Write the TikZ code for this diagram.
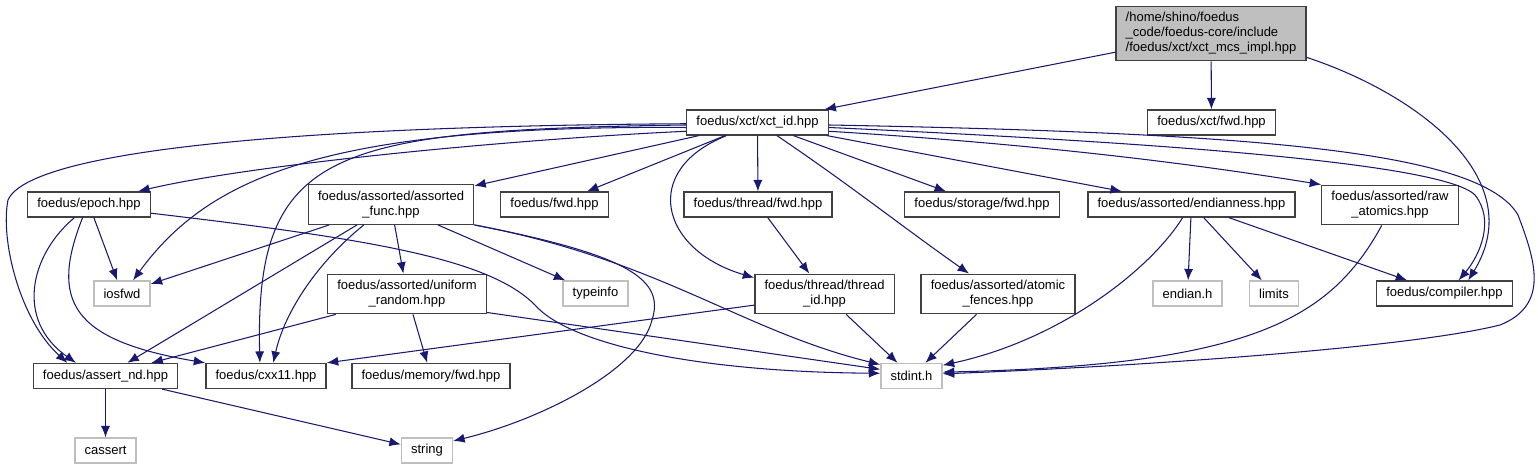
\documentclass[tikz,border=0pt]{standalone}
\usepackage{fontspec}
\setmainfont{Liberation Sans}
\usetikzlibrary{arrows.meta}

\definecolor{kante}{RGB}{25,25,112}
\definecolor{rahmen}{RGB}{64,64,64}
\definecolor{sysrahmen}{RGB}{191,191,191}

\tikzset{
  hdr/.style={draw=rahmen, line width=0.75pt, fill=white, inner xsep=5.5pt, inner ysep=3.5pt,
    minimum height=0.5cm, align=center, font=\fontsize{7.4}{8.6}\selectfont},
  sys/.style={hdr, draw=sysrahmen},
  dep/.style={draw=kante, line width=0.6pt, -{Latex[length=6.5pt,width=5.2pt]}},
}

\begin{document}
\begin{tikzpicture}[x=0.02cm, y=-0.02cm]
  % Rahmen
  \path[fill=white, use as bounding box] (0,0) rectangle (1538,469);

  % Wurzel
  \node[hdr, fill=sysrahmen, align=left] (root) at (1211,33.5) {/home/shino/foedus\\\_code/foedus-core/include\\/foedus/xct/xct\_mcs\_impl.hpp};

  % Ebene 1
  \node[hdr] (xctid) at (757.5,122.5) {foedus/xct/xct\_id.hpp};
  \node[hdr] (xctfwd) at (1211.5,122.5) {foedus/xct/fwd.hpp};

  % Ebene 2
  \node[hdr] (epoch) at (89,204.5) {foedus/epoch.hpp};
  \node[hdr] (afunc) at (391,204.5) {foedus/assorted/assorted\\\_func.hpp};
  \node[hdr] (ffwd) at (554.5,204.5) {foedus/fwd.hpp};
  \node[hdr] (tfwd) at (758,204.5) {foedus/thread/fwd.hpp};
  \node[hdr] (sfwd) at (982,204.5) {foedus/storage/fwd.hpp};
  \node[hdr] (endian) at (1191.5,204.5) {foedus/assorted/endianness.hpp};
  \node[hdr] (raw) at (1390,205) {foedus/assorted/raw\\\_atomics.hpp};

  % Ebene 3
  \node[sys] (iosfwd) at (122,293.5) {iosfwd};
  \node[hdr] (urandom) at (407,294) {foedus/assorted/uniform\\\_random.hpp};
  \node[sys] (typeinfo) at (595.5,293.5) {typeinfo};
  \node[hdr] (tid) at (824.5,294) {foedus/thread/thread\\\_id.hpp};
  \node[hdr] (afence) at (998,294) {foedus/assorted/atomic\\\_fences.hpp};
  \node[sys] (endianh) at (1187.5,293.5) {endian.h};
  \node[sys] (limits) at (1274,293.5) {limits};
  \node[hdr] (compiler) at (1444.5,293.5) {foedus/compiler.hpp};

  % Ebene 4
  \node[hdr] (assertnd) at (105.5,376) {foedus/assert\_nd.hpp};
  \node[hdr] (cxx11) at (266,376) {foedus/cxx11.hpp};
  \node[hdr] (memfwd) at (431,376) {foedus/memory/fwd.hpp};
  \node[sys] (stdint) at (911.5,376) {stdint.h};

  % Ebene 5
  \node[sys] (cassert) at (105.5,450.5) {cassert};
  \node[sys] (string) at (427,450.5) {string};

  % Kanten der Wurzel
  \draw[dep] (root) -- (xctid);
  \draw[dep] (root) -- (xctfwd);
  \draw[dep] (root.-14) .. controls (1420,95) and (1530,180) .. (compiler.29);

  % Kanten von xct_id
  \draw[dep] (xctid.181) .. controls (300,126) and (30,150) .. (8,200) .. controls (0,240) and (20,320) .. (assertnd.161);
  \draw[dep] (xctid.182) .. controls (330,130) and (255,150) .. (cxx11.115);
  \draw[dep] (xctid.184) .. controls (330,125) and (210,175) .. (iosfwd.50);
  \draw[dep] (xctid.187) .. controls (500,140) and (250,165) .. (epoch.15);
  \draw[dep] (xctid) -- (afunc);
  \draw[dep] (xctid) -- (ffwd);
  \draw[dep] (xctid.203) .. controls (640,170) and (660,250) .. (tid.167);
  \draw[dep] (xctid) -- (tfwd);
  \draw[dep] (xctid) .. controls (850,185) and (900,225) .. (afence);
  \draw[dep] (xctid) -- (sfwd);
  \draw[dep] (xctid) -- (endian);
  \draw[dep] (xctid.-7) .. controls (1050,145) and (1200,165) .. (raw.north west);
  \draw[dep] (xctid.-4) .. controls (1100,140) and (1440,160) .. (1475,195) .. controls (1495,220) and (1480,255) .. (compiler.43);
  \draw[dep] (xctid.-2) .. controls (1250,133) and (1480,150) .. (1518,215) .. controls (1535,260) and (1550,305) .. (1500,325) .. controls (1400,350) and (1100,368) .. (stdint.4);

  % Kanten von epoch
  \draw[dep] (epoch) -- (iosfwd);
  \draw[dep] (epoch.222) .. controls (30,255) and (15,320) .. (assertnd.156);
  \draw[dep] (epoch.244) .. controls (50,300) and (70,340) .. (cxx11.north west);
  \draw[dep] (epoch.-8) .. controls (380,240) and (490,260) .. (535,305) .. controls (570,345) and (700,372) .. (stdint.175);

  % Kanten von assorted_func
  \draw[dep] (afunc) -- (iosfwd);
  \draw[dep] (afunc) -- (assertnd);
  \draw[dep] (afunc.217) .. controls (320,260) and (285,310) .. (cxx11.61);
  \draw[dep] (afunc) -- (urandom);
  \draw[dep] (afunc) -- (typeinfo);
  \draw[dep] (afunc.south east) .. controls (660,260) and (740,330) .. (stdint.160);
  \draw[dep] (afunc.south east) .. controls (630,255) and (665,280) .. (652,320) .. controls (640,370) and (540,420) .. (string.20);

  % Kanten der dritten Ebene
  \draw[dep] (urandom.196) -- (assertnd.16);
  \draw[dep] (urandom) -- (memfwd);
  \draw[dep] (urandom.-13) -- (stdint.168);
  \draw[dep] (tfwd) -- (tid);
  \draw[dep] (tid.189) -- (cxx11.north east);
  \draw[dep] (tid) -- (stdint);
  \draw[dep] (afence) -- (stdint);
  \draw[dep] (endian) -- (endianh);
  \draw[dep] (endian) -- (limits);
  \draw[dep] (endian) -- (compiler);
  \draw[dep] (endian.236) .. controls (1150,270) and (1060,340) .. (stdint.19);
  \draw[dep] (raw.248) .. controls (1330,320) and (1250,365) .. (stdint.7);

  % Kanten von assert_nd
  \draw[dep] (assertnd) -- (cassert);
  \draw[dep] (assertnd) -- (string);
\end{tikzpicture}
\end{document}
